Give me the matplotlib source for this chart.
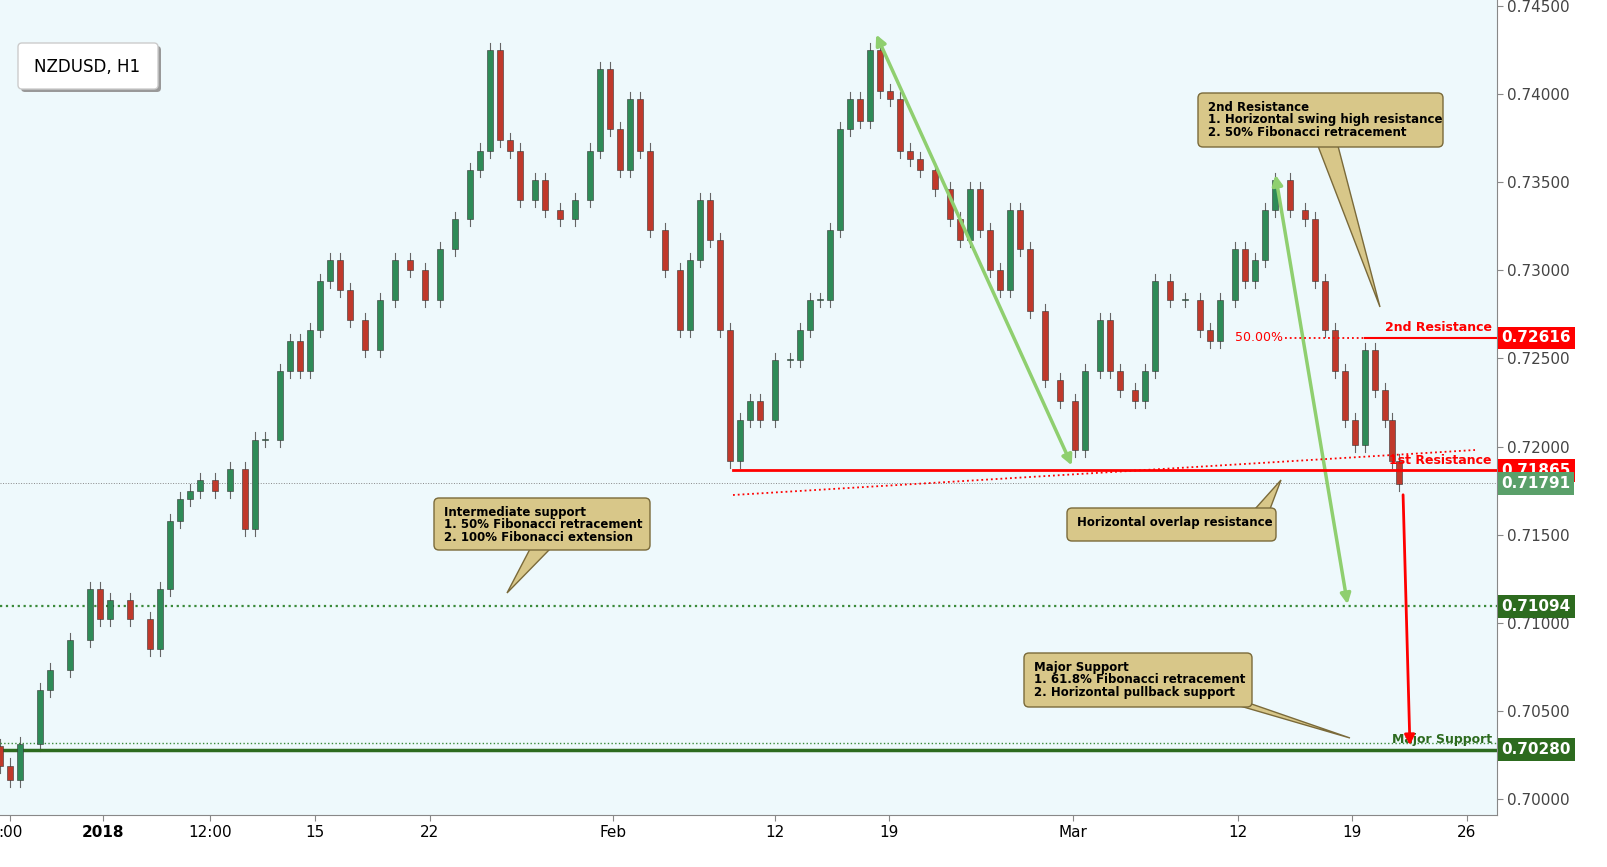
import matplotlib
matplotlib.use("Agg")
import matplotlib.pyplot as plt
from matplotlib.patches import Rectangle, Polygon, FancyBboxPatch

# candle x positions (chart pixels) and closes
bar_x = [0, 10, 20, 40, 50, 70, 90, 100, 110, 130, 150, 160, 170, 180, 190, 200, 215, 230, 245, 255,
         265, 280, 290, 300, 310, 320, 330, 340, 350, 365, 380, 395, 410, 425, 440, 455, 470, 480, 490, 500,
         510, 520, 535, 545, 560, 575, 590, 600, 610, 620, 630, 640, 650, 665, 680, 690, 700, 710, 720, 730,
         740, 750, 760, 775, 790, 800, 810, 820, 830, 840, 850, 860, 870, 880, 890, 900, 910, 920, 935, 950,
         960, 970, 980, 990, 1000, 1010, 1020, 1030, 1045, 1060, 1075, 1085, 1100, 1110, 1120, 1135, 1145, 1155, 1170, 1185,
         1200, 1210, 1220, 1235, 1245, 1255, 1265, 1275, 1290, 1305, 1315, 1325, 1335, 1345, 1355, 1365, 1375, 1385, 1392, 1399]
closes = [0.7019, 0.7011, 0.7031, 0.7062, 0.7073, 0.7090, 0.7119, 0.7102, 0.7113, 0.7102, 0.7085, 0.7119, 0.7158, 0.7170, 0.7175, 0.7181, 0.7175, 0.7187, 0.7153, 0.7204,
          0.7204, 0.7243, 0.7260, 0.7243, 0.7266, 0.7294, 0.7306, 0.7289, 0.7272, 0.7255, 0.7283, 0.7306, 0.7300, 0.7283, 0.7312, 0.7329, 0.7357, 0.7368, 0.7425, 0.7374,
          0.7368, 0.7340, 0.7351, 0.7334, 0.7329, 0.7340, 0.7368, 0.7414, 0.7380, 0.7357, 0.7397, 0.7368, 0.7323, 0.7300, 0.7266, 0.7306, 0.7340, 0.7317, 0.7266, 0.7192,
          0.7215, 0.7226, 0.7215, 0.7249, 0.7249, 0.7266, 0.7283, 0.7283, 0.7323, 0.7380, 0.7397, 0.7385, 0.7425, 0.7402, 0.7397, 0.7368, 0.7363, 0.7357, 0.7346, 0.7329,
          0.7317, 0.7346, 0.7323, 0.7300, 0.7289, 0.7334, 0.7312, 0.7277, 0.7238, 0.7226, 0.7198, 0.7243, 0.7272, 0.7243, 0.7232, 0.7226, 0.7243, 0.7294, 0.7283, 0.7283,
          0.7266, 0.7260, 0.7283, 0.7312, 0.7294, 0.7306, 0.7334, 0.7351, 0.7334, 0.7329, 0.7294, 0.7266, 0.7243, 0.7215, 0.7201, 0.7255, 0.7232, 0.7215, 0.7192, 0.7179]
first_open = 0.7030

tick_x = [10, 103, 210, 315, 430, 613, 775, 889, 1073, 1238, 1352, 1467]
tick_labels = [":00", "2018", "12:00", "15", "22", "Feb", "12", "19", "Mar", "12", "19", "26"]
price_ticks = [0.700, 0.705, 0.710, 0.715, 0.720, 0.725, 0.730, 0.735, 0.740, 0.745]

res2 = 0.72616
res1 = 0.71865
last_price = 0.71791
int_support = 0.71094
major_support = 0.70280

BG = "#eef9fc"
TAN = "#d8c789"

def py(y):
    # pixel row in the chart -> price
    return 0.745 - (y - 6) / 17622.0

fig = plt.figure(figsize=(16.08, 8.67), dpi=100)
fig.patch.set_facecolor("white")
ax = fig.add_axes([0, 52 / 867, 1497 / 1608, 815 / 867])
ax.set_facecolor(BG)
ax.set_xlim(0, 1497)
ax.set_ylim(py(815), py(0))

opens = [first_open] + closes[:-1]
for x, o, c in zip(bar_x, opens, closes):
    up = c >= o
    col = "#2e8b57" if up else "#c0392b"
    hi = max(o, c) + 0.0004
    lo = min(o, c) - 0.0004
    ax.plot([x, x], [lo, hi], color="#666666", lw=0.8, zorder=2)
    ax.add_patch(Rectangle((x - 3, min(o, c)), 6, max(abs(c - o), 0.00005),
                           facecolor=col, edgecolor="#333333", lw=0.4, zorder=3))

# levels
ax.plot([733, 1497], [res1, res1], color="red", lw=2, zorder=4)
ax.plot([1285, 1497], [res2, res2], color="red", lw=1.3, ls=":", zorder=4)
ax.plot([1365, 1497], [res2, res2], color="red", lw=1.5, zorder=4)
ax.text(1283, res2, "50.00%", color="red", fontsize=9, ha="right", va="center")
ax.plot([733, 1475], [py(495), py(450)], color="red", lw=1.3, ls=":", zorder=4)
ax.axhline(last_price, color="#888888", lw=0.7, ls=":")
ax.axhline(int_support, color="#3a8a3a", lw=1.6, ls=":")
ax.axhline(major_support, color="#2d6b1f", lw=2.5)
ax.axhline(major_support + 0.0004, color="#3a8a3a", lw=1, ls=":")
ax.text(1492, res2 + 0.0002, "2nd Resistance", color="red", fontsize=9, fontweight="bold", ha="right", va="bottom")
ax.text(1492, res1 + 0.0002, "1st Resistance", color="red", fontsize=9, fontweight="bold", ha="right", va="bottom")
ax.text(1492, major_support + 0.0002, "Major Support", color="#2d6b1f", fontsize=9, fontweight="bold", ha="right", va="bottom")

# arrows
green = "#8fcf6f"
for (x0, y0), (x1, y1) in [((875, 32), (1073, 468)), ((1275, 172), (1348, 607))]:
    ax.annotate("", xy=(x0, py(y0)), xytext=(x1, py(y1)),
                arrowprops=dict(arrowstyle="<|-|>", color=green, lw=2.5, mutation_scale=15))
ax.annotate("", xy=(1410, py(748)), xytext=(1403, py(492)),
            arrowprops=dict(arrowstyle="-|>", color="red", lw=2, mutation_scale=15))

# callouts
def callout(x0, y0, x1, y1, tip, base, lines, fs=8.5):
    ax.add_patch(Polygon([(base[0], py(base[1])), (tip[0], py(tip[1])), (base[2], py(base[3]))],
                         closed=True, facecolor=TAN, edgecolor="#7a6a3a", lw=1, zorder=6))
    ax.add_patch(FancyBboxPatch((x0, py(y1)), x1 - x0, py(y0) - py(y1),
                                boxstyle="round,pad=0,rounding_size=5", mutation_aspect=1 / 17622.0,
                                facecolor=TAN, edgecolor="#7a6a3a", lw=1, zorder=7))
    ax.text(x0 + 10, py(y0 + 8), lines, fontsize=fs, fontweight="bold", va="top", ha="left",
            linespacing=0.95, zorder=8, family="DejaVu Sans")

callout(1198, 93, 1443, 147, (1380, 307), (1318, 146, 1338, 146),
        "2nd Resistance\n1. Horizontal swing high resistance\n2. 50% Fibonacci retracement")
callout(434, 498, 650, 550, (507, 593), (530, 549, 550, 549),
        "Intermediate support\n1. 50% Fibonacci retracement\n2. 100% Fibonacci extension")
callout(1067, 508, 1276, 541, (1281, 480), (1255, 509, 1270, 509),
        "Horizontal overlap resistance")
callout(1024, 653, 1252, 707, (1350, 738), (1240, 700, 1240, 706),
        "Major Support\n1. 61.8% Fibonacci retracement\n2. Horizontal pullback support")

ax.add_patch(FancyBboxPatch((21, py(92)), 140, py(46) - py(92), boxstyle="round,pad=0,rounding_size=4",
                            mutation_aspect=1 / 17622.0, facecolor="#999999", edgecolor="none", zorder=6,
                            transform=ax.transData))
ax.add_patch(FancyBboxPatch((18, py(89)), 140, py(43) - py(89), boxstyle="round,pad=0,rounding_size=4",
                            mutation_aspect=1 / 17622.0, facecolor="white", edgecolor="#cccccc", zorder=7))
ax.text(34, py(67), "NZDUSD, H1", fontsize=12, va="center", zorder=8)

# axes
ax.set_xticks(tick_x)
ax.set_xticklabels(tick_labels, fontsize=11)
for lbl in ax.get_xticklabels():
    if lbl.get_text() == "2018":
        lbl.set_fontweight("bold")
ax.yaxis.tick_right()
ax.set_yticks(price_ticks)
ax.set_yticklabels([f"{p:.5f}" for p in price_ticks], fontsize=11, color="#444444")
ax.tick_params(axis="both", length=4, color="#888888")
for s in ["top", "left"]:
    ax.spines[s].set_visible(False)
ax.spines["right"].set_color("#888888")
ax.spines["bottom"].set_color("#888888")

# price tags on the right axis
for val, col in [(res2, "#ff0000"), (res1, "#ff0000"), (last_price, "#5aa06a"),
                 (int_support, "#2d6b1f"), (major_support, "#2d6b1f")]:
    ax.text(1.003, val, f"{val:.5f}", transform=ax.get_yaxis_transform(), fontsize=11,
            color="white", fontweight="bold", va="center", ha="left", zorder=10, clip_on=False,
            bbox=dict(boxstyle="square,pad=0.25", facecolor=col, edgecolor="none"))

fig.savefig("out.png", dpi=100)
